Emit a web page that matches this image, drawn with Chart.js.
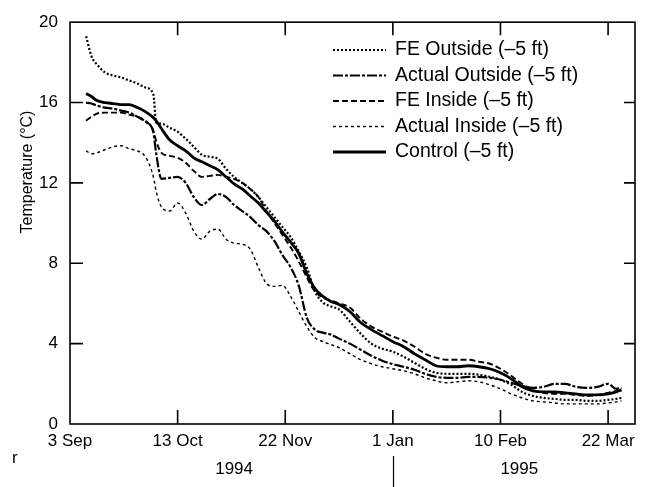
<!DOCTYPE html>
<html>
<head>
<meta charset="utf-8">
<script src="https://cdn.jsdelivr.net/npm/chart.js@4.4.0/dist/chart.umd.min.js"></script>
<style>
  html, body { margin: 0; padding: 0; background: #fff; }
  #wrap { width: 648px; height: 487px; }
</style>
</head>
<body>
<div id="wrap"><canvas id="myChart" width="648" height="487"></canvas></div>
<script>
// days counted from 3 Sep 1994
const days = [6, 8, 10, 13, 16, 19, 22, 25, 28, 31,
  32, 34, 37, 40, 43, 46, 49, 52, 55, 58,
  61, 64, 67, 70, 73, 76, 79, 82, 85, 88,
  91, 94, 97, 100, 104, 108, 112, 116, 120, 124,
  128, 132, 136, 140, 144, 148, 152, 156, 160, 164,
  168, 172, 176, 180, 184, 188, 192, 196, 200, 203, 205];

const feOutside = [19.3, 18.3, 17.9, 17.5, 17.35, 17.25, 17.1, 16.95, 16.75, 16.4,
  15.0, 14.95, 14.75, 14.55, 14.2, 13.8, 13.4, 13.3, 13.2, 12.7,
  12.3, 12.0, 11.7, 11.3, 10.8, 10.3, 9.8, 9.3, 8.6, 7.8,
  6.6, 6.05, 5.85, 5.7, 5.1, 4.5, 4.0, 3.75, 3.6, 3.35,
  3.05, 2.75, 2.55, 2.5, 2.5, 2.5, 2.45, 2.35, 2.2, 1.95,
  1.6, 1.4, 1.3, 1.25, 1.2, 1.2, 1.15, 1.15, 1.2, 1.25, 1.3];

const actualOutside = [16.0, 15.95, 15.85, 15.75, 15.7, 15.6, 15.5, 15.3, 15.05, 14.5,
  13.5, 12.2, 12.25, 12.3, 12.0, 11.3, 10.9, 11.2, 11.45, 11.3,
  10.9, 10.6, 10.3, 9.9, 9.6, 9.1, 8.4, 7.8, 6.9, 5.3,
  4.7, 4.55, 4.45, 4.25, 4.0, 3.7, 3.4, 3.15, 2.98, 2.85,
  2.7, 2.5, 2.35, 2.3, 2.3, 2.35, 2.35, 2.3, 2.2, 2.05,
  1.9, 1.8, 1.85, 2.0, 2.0, 1.85, 1.8, 1.85, 2.0, 1.75, 1.8];

const feInside = [15.1, 15.3, 15.45, 15.5, 15.5, 15.5, 15.4, 15.3, 15.1, 14.6,
  14.1, 13.5, 13.35, 13.25, 13.0, 12.6, 12.3, 12.35, 12.4, 12.3,
  12.2, 12.0, 11.7, 11.3, 10.6, 10.0, 9.4, 8.8, 8.1, 7.3,
  6.6, 6.3, 6.15, 6.0, 5.8, 5.25, 4.85, 4.6, 4.35, 4.15,
  3.85, 3.5, 3.3, 3.2, 3.2, 3.2, 3.1, 3.0, 2.75, 2.4,
  2.0, 1.7, 1.55, 1.5, 1.5, 1.45, 1.4, 1.45, 1.55, 1.65, 1.7];

const actualInside = [13.6, 13.45, 13.5, 13.65, 13.8, 13.85, 13.7, 13.6, 13.3, 12.3,
  11.6, 10.8, 10.6, 11.0, 10.5, 9.6, 9.2, 9.6, 9.7, 9.2,
  9.0, 8.95, 8.7, 7.8, 7.0, 6.85, 6.9, 6.35, 5.6, 4.85,
  4.3, 4.1, 3.95, 3.8, 3.5, 3.2, 3.0, 2.85, 2.75, 2.65,
  2.5, 2.3, 2.15, 2.05, 2.1, 2.15, 2.1, 1.95, 1.75, 1.5,
  1.3, 1.15, 1.1, 1.05, 1.0, 1.0, 1.0, 1.0, 1.05, 1.1, 1.15];

const control = [16.45, 16.3, 16.1, 16.0, 15.95, 15.9, 15.9, 15.75, 15.55, 15.25,
  15.1, 14.7, 14.15, 13.85, 13.6, 13.25, 13.05, 12.85, 12.65, 12.3,
  11.95, 11.7, 11.35, 11.0, 10.55, 10.1, 9.55, 9.05, 8.5, 7.5,
  6.75, 6.35, 6.1, 5.95, 5.6, 5.05, 4.7, 4.4, 4.1, 3.85,
  3.5, 3.2, 2.9, 2.85, 2.85, 2.9, 2.85, 2.75, 2.55, 2.25,
  1.85, 1.65, 1.6, 1.6, 1.55, 1.5, 1.45, 1.45, 1.5, 1.6, 1.7];

const seriesLabels = ['FE Outside (–5 ft)', 'Actual Outside (–5 ft)', 'FE Inside (–5 ft)',
  'Actual Inside (–5 ft)', 'Control (–5 ft)'];
const tickDays = [0, 40, 80, 120, 160, 200];
const tickLabels = ['3 Sep', '13 Oct', '22 Nov', '1 Jan', '10 Feb', '22 Mar'];
const yearLabels = ['1994', '1995'];
const yearCenters = [61, 167];
const yearSplit = 120;

const FONT = "'Liberation Sans', Arial, Helvetica, sans-serif";

function pts(vals) {
    return days.map((d, i) => ({ x: d, y: vals[i] }));
}

function line(label, vals, width, dash) {
    return {
        label: label,
        data: pts(vals),
        borderColor: '#000',
        borderWidth: width,
        borderDash: dash,
        pointRadius: 0,
        fill: false,
        cubicInterpolationMode: 'monotone',
    };
}

// frame with inward ticks, legend, year row
const decorations = {
    id: 'decorations',
    afterDraw(chart) {
        const ctx = chart.ctx;
        const a = chart.chartArea;
        const xs = chart.scales.x, ys = chart.scales.y;
        ctx.save();
        ctx.strokeStyle = '#000';
        ctx.lineWidth = 1.6;
        ctx.setLineDash([]);
        ctx.strokeRect(a.left, a.top, a.right - a.left, a.bottom - a.top);
        ctx.beginPath();
        tickDays.forEach(v => {
            if (v === 0) return;
            const x = xs.getPixelForValue(v);
            ctx.moveTo(x, a.bottom); ctx.lineTo(x, a.bottom - 14);
            ctx.moveTo(x, a.top); ctx.lineTo(x, a.top + 13);
        });
        ys.ticks.forEach(t => {
            if (t.value === 0 || t.value === 20) return;
            const y = ys.getPixelForValue(t.value);
            ctx.moveTo(a.left, y); ctx.lineTo(a.left + 13, y);
            ctx.moveTo(a.right, y); ctx.lineTo(a.right - 11, y);
        });
        ctx.stroke();

        // y title
        ctx.fillStyle = '#000';
        ctx.font = '16px ' + FONT;
        ctx.save();
        ctx.translate(28, 172);
        ctx.rotate(-Math.PI / 2);
        ctx.textAlign = 'center';
        ctx.textBaseline = 'middle';
        ctx.fillText('Temperature (°C)', 0, 0);
        ctx.restore();

        // year row
        ctx.font = '17px ' + FONT;
        ctx.textAlign = 'center';
        ctx.textBaseline = 'middle';
        yearLabels.forEach((t, i) => ctx.fillText(t, xs.getPixelForValue(yearCenters[i]), 469));
        const sx = Math.round(xs.getPixelForValue(yearSplit)) + 0.5;
        ctx.lineWidth = 1.2;
        ctx.beginPath();
        ctx.moveTo(sx, 456); ctx.lineTo(sx, 487);
        ctx.stroke();
        ctx.textAlign = 'left';
        ctx.fillText('r', 12, 458);

        // legend
        chart.data.datasets.forEach((ds, i) => {
            const y = 50 + i * 25.5;
            ctx.lineWidth = ds.borderWidth;
            ctx.setLineDash(ds.borderDash || []);
            ctx.beginPath();
            ctx.moveTo(333, y); ctx.lineTo(386, y);
            ctx.stroke();
            ctx.setLineDash([]);
            ctx.font = '19.5px ' + FONT;
            ctx.textAlign = 'left';
            ctx.fillText(ds.label, 395, y);
        });
        ctx.restore();
    }
};

const config = {
    type: 'line',
    data: {
        datasets: [
            line(seriesLabels[0], feOutside, 2.2, [2, 2]),
            line(seriesLabels[1], actualOutside, 2.2, [10, 2, 3, 2]),
            line(seriesLabels[2], feInside, 1.9, [6, 3]),
            line(seriesLabels[3], actualInside, 1.4, [3, 3]),
            line(seriesLabels[4], control, 2.8, []),
        ],
    },
    options: {
        responsive: false,
        devicePixelRatio: 1,
        animation: false,
        layout: { padding: { left: 0, right: 13, top: 17, bottom: 0 } },
        plugins: { legend: { display: false }, tooltip: { enabled: false } },
        scales: {
            x: {
                type: 'linear',
                min: 0,
                max: 210,
                grid: { display: false, drawTicks: false },
                border: { display: false },
                afterBuildTicks: (s) => { s.ticks = tickDays.map(v => ({ value: v })); },
                afterFit: (s) => { s.height = 63; },
                ticks: {
                    autoSkip: false,
                    maxRotation: 0,
                    padding: 7,
                    color: '#000',
                    font: { family: FONT, size: 17 },
                    callback: (v) => tickLabels[tickDays.indexOf(v)],
                },
            },
            y: {
                min: 0,
                max: 20,
                grid: { display: false, drawTicks: false },
                border: { display: false },
                afterFit: (s) => { s.width = 70; },
                ticks: {
                    stepSize: 4,
                    padding: 12,
                    color: '#000',
                    font: { family: FONT, size: 17 },
                },
            },
        },
    },
    plugins: [decorations],
};

new Chart(document.getElementById('myChart').getContext('2d'), config);
</script>
</body>
</html>
